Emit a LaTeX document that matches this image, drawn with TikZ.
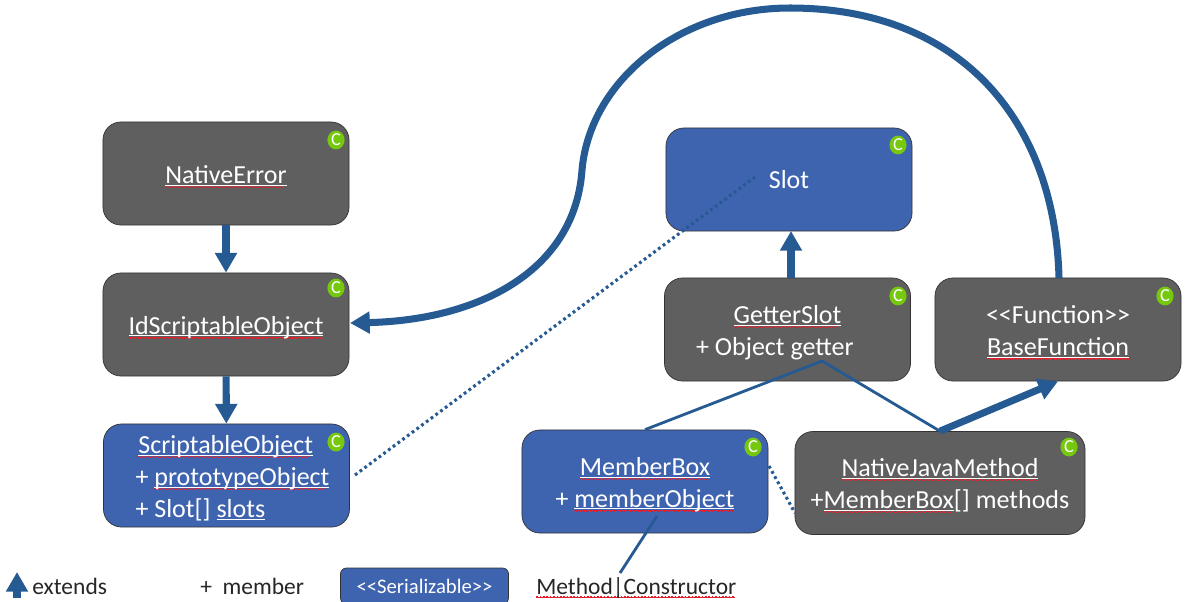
\documentclass[tikz,border=0pt]{standalone}
\usepackage{fontspec}
\setmainfont{Carlito}
\usetikzlibrary{arrows.meta,shapes.geometric}
\definecolor{boxgrey}{HTML}{5F5F5F}
\definecolor{boxblue}{HTML}{3F64AF}
\definecolor{linkblue}{HTML}{255A92}
\definecolor{badgegreen}{HTML}{76C80E}
\definecolor{wavered}{HTML}{E0202C}
\definecolor{darktext}{HTML}{262626}
\newcommand{\redwave}[1]{\sbox0{#1}\rlap{\hbox to \wd0{\color{wavered}\leaders\hbox{\vrule height -1.7pt depth 2.5pt width 1.2pt\vrule height -2.3pt depth 3.1pt width 1.2pt}\hfill}}\box0}
\newcommand{\whiteline}[1]{\sbox0{#1}\rlap{\vrule height -0.9pt depth 1.6pt width \wd0}\box0}
\newcommand{\spell}[1]{\redwave{\whiteline{#1}}}
\newcommand{\topstrut}{\rule{0pt}{17pt}}
\newcommand{\memberindent}{\hspace*{8.5pt}}
\tikzset{
    classbox/.style={draw=black!80,line width=0.5pt,rounded corners=0.45cm,minimum width=6.15cm,minimum height=2.575cm,inner sep=0pt,text=white,align=center,font=\fontsize{18.5}{22.7}\selectfont},
    greybox/.style={classbox,fill=boxgrey},
    bluebox/.style={classbox,fill=boxblue},
    badge/.style={ellipse,fill=badgegreen,minimum width=0.43cm,minimum height=0.47cm,inner sep=0pt,text=white,font=\fontsize{13}{13}\selectfont},
    legendtext/.style={inner sep=0pt,anchor=base west,text=darktext,font=\fontsize{16.7}{18}\selectfont},
    extendsarrow/.style={draw=linkblue,line width=5pt,-{Triangle[width=15pt,length=14pt]}},
    curvearrow/.style={draw=linkblue,line width=5pt,-{Triangle[width=15pt,length=14pt]}},
    thinlink/.style={draw=linkblue,line width=2pt},
    dotlink/.style={draw=linkblue,line width=2.2pt,dash pattern=on 2pt off 2.2pt}
}
\begin{document}
\begin{tikzpicture}[x=0.025cm,y=-0.025cm]
    \useasboundingbox (0,0) rectangle (1188,601);

    \node[greybox] (nativeerror) at (226,173.5) {\topstrut\spell{NativeError}};
    \node[greybox] (idscriptable) at (226,324.5) {\topstrut\spell{IdScriptableObject}};
    \node[bluebox,align=left] (scriptable) at (226.5,475.5) {\topstrut\memberindent\hspace*{2pt}\spell{ScriptableObject}\\\memberindent+ \spell{prototypeObject}\\\memberindent+ Slot[] \whiteline{slots}};
    \node[bluebox] (slot) at (789,179.5) {Slot};
    \node[greybox] (getterslot) at (787.5,329.5) {\topstrut\spell{GetterSlot}\\+ Object getter\hspace*{18pt}};
    \node[greybox] (basefunction) at (1058,329.5) {\topstrut <{}<Function>{}>\\\spell{BaseFunction}};
    \node[bluebox] (memberbox) at (645,481.5) {\topstrut\spell{MemberBox}\\+ \spell{memberObject}};
    \node[greybox,minimum width=7.25cm] (nativejava) at (940,483) {\topstrut\spell{NativeJavaMethod}\\+\spell{MemberBox}[] methods};

    \node[badge] (c1) at (336,140) {C};
    \node[badge] (c2) at (336,288) {C};
    \node[badge] (c3) at (336,442) {C};
    \node[badge] (c4) at (898,145) {C};
    \node[badge] (c5) at (898,296) {C};
    \node[badge] (c6) at (1165,296) {C};
    \node[badge] (c7) at (753,447) {C};
    \node[badge] (c8) at (1069,447) {C};

    \coordinate (slotin) at (755,177);
    \coordinate (scriptout) at (355,475);
    \coordinate (peak) at (822,361);
    \coordinate (memberout) at (657,516);
    \coordinate (boxright) at (769,466);
    \coordinate (javaleft) at (795,513);
    \coordinate (idin) at (350,323);
    \coordinate (funcout) at (1059,278);
    \coordinate (getterout) at (791,278);
    \coordinate (slotbase) at (791,231);
    \coordinate (methodtop) at (620,573);

    \draw[extendsarrow] (nativeerror) -- (idscriptable);
    \draw[extendsarrow] (idscriptable) -- (scriptable);
    \draw[extendsarrow] (getterout) -- (slotbase);
    \draw[extendsarrow] (nativejava.north) -- (basefunction.south);
    \draw[curvearrow] (funcout) .. controls (1055,120) and (960,8) .. (790,8) .. controls (680,8) and (590,80) .. (582,170) .. controls (575,270) and (480,320) .. (idin);
    \draw[thinlink] (memberbox.north) -- (peak) -- (nativejava.north);
    \draw[thinlink] (memberout) -- (methodtop);
    \draw[dotlink] (scriptout) -- (slotin);
    \draw[dotlink] (boxright) -- (javaleft);

    \coordinate (upbase) at (17,598);
    \coordinate (uptip) at (17,572);
    \draw[extendsarrow] (upbase) -- (uptip);
    \node[legendtext] (extends) at (32,594) {extends};
    \node[legendtext] (member) at (200,594) {+\ \ member};
    \node[classbox,fill=boxblue,rounded corners=0.15cm,minimum width=4.2cm,minimum height=0.9cm,font=\fontsize{14.7}{16}\selectfont] (serializable) at (424.5,586) {<{}<Serializable>{}>};
    \node[legendtext] (methodlabel) at (536,594) {\redwave{Method|Constructor}};
\end{tikzpicture}
\end{document}
